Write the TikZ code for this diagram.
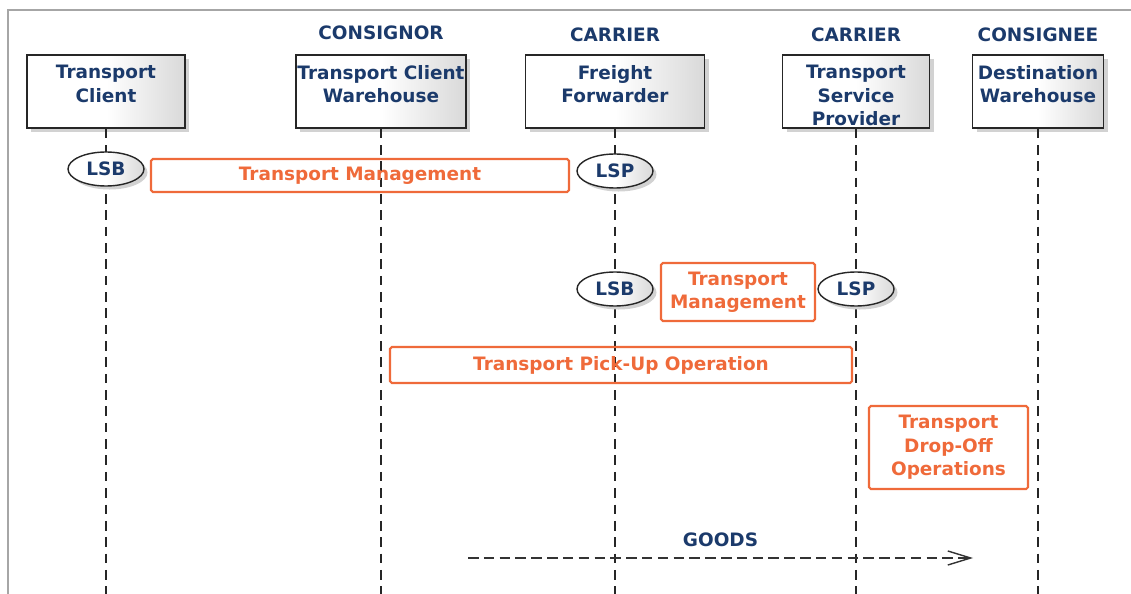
\documentclass[tikz,border=0pt]{standalone}
\usepackage{fontspec}
\setmainfont{DejaVu Sans}
\usetikzlibrary{positioning, arrows.meta, shapes.geometric, shadows}
\definecolor{myNavy}{HTML}{1B3A6B}
\definecolor{myOrange}{HTML}{EF6A3A}

\begin{document}
\begin{tikzpicture}[x=0.02cm, y=-0.02cm,
  txt/.style={font=\fontsize{10.5}{13.3}\selectfont\bfseries, text=myNavy,
              inner sep=0pt, align=center},
  actor/.style={draw=black!85, line width=0.8pt, minimum height=1.46cm,
                left color=white, right color=gray!30, middle color=white,
                drop shadow={shadow xshift=2.5pt, shadow yshift=-2.5pt,
                             fill=gray!35, opacity=1}},
  role/.style={txt, ellipse, draw=black!85, line width=0.8pt,
               minimum width=1.52cm, minimum height=0.68cm,
               left color=white, right color=gray!30, middle color=white,
               drop shadow={shadow xshift=2pt, shadow yshift=-2pt,
                            fill=gray!35, opacity=1}},
  task/.style={txt, text=myOrange, draw=myOrange, line width=1.2pt,
               rounded corners=1pt},
  life/.style={draw=black!85, line width=0.8pt, dash pattern=on 5.5pt off 3.8pt},
  goods/.style={draw=black!80, line width=0.8pt, dash pattern=on 6pt off 3pt,
                -{Straight Barb[length=13pt, width=8pt]}}
]
\useasboundingbox (0,0) rectangle (1131,594);
\draw[gray!70, line width=0.9pt] (1131,10) -- (8,10) -- (8,594);

\node[actor, minimum width=3.16cm] (tc) at (106,91.5) {};
\node[actor, minimum width=3.40cm] (tcw) at (381,91.5) {};
\node[actor, minimum width=3.58cm] (ff) at (615,91.5) {};
\node[actor, minimum width=2.94cm] (tsp) at (856,91.5) {};
\node[actor, minimum width=2.62cm] (dw) at (1038,91.5) {};

\node[txt, below=6pt of tc.north] (tc-txt) {Transport\\Client};
\node[txt, below=6pt of tcw.north] (tcw-txt) {Transport Client\\Warehouse};
\node[txt, below=6pt of ff.north] (ff-txt) {Freight\\Forwarder};
\node[txt, below=6pt of tsp.north] (tsp-txt) {Transport\\Service\\Provider};
\node[txt, below=6pt of dw.north] (dw-txt) {Destination\\Warehouse};

\node[txt, above=8pt of tcw] (consignor) {CONSIGNOR};
\node[txt, above=7pt of ff] (carrier-a) {CARRIER};
\node[txt, above=7pt of tsp] (carrier-b) {CARRIER};
\node[txt, above=7pt of dw] (consignee) {CONSIGNEE};

\coordinate (bottom) at (0,594);
\foreach \n in {tc, tcw, ff, tsp, dw}
  \draw[life] (\n.south) -- (\n |- bottom);

\node[role] (lsb-a) at (106,169) {LSB};
\node[role] (lsp-a) at (615,171) {LSP};
\node[role] (lsb-b) at (615,289) {LSB};
\node[role] (lsp-b) at (856,289) {LSP};

\node[task, minimum width=8.36cm, minimum height=0.66cm] (tm-a) at (360,175.5) {Transport Management};
\node[task, minimum width=3.08cm, minimum height=1.16cm] (tm-b) at (738,292) {Transport\\Management};
\node[task, minimum width=9.24cm, minimum height=0.72cm] (pickup) at (621,365) {Transport Pick-Up Operation};
\node[task, minimum width=3.18cm, minimum height=1.66cm] (dropoff) at (948.5,447.5) {Transport\\Drop-Off\\Operations};

\coordinate (goods-start) at (468,558);
\coordinate (goods-end) at (973,558);
\draw[goods] (goods-start) -- node[txt, above=6pt] (goods-lbl) {GOODS} (goods-end);
\end{tikzpicture}
\end{document}
